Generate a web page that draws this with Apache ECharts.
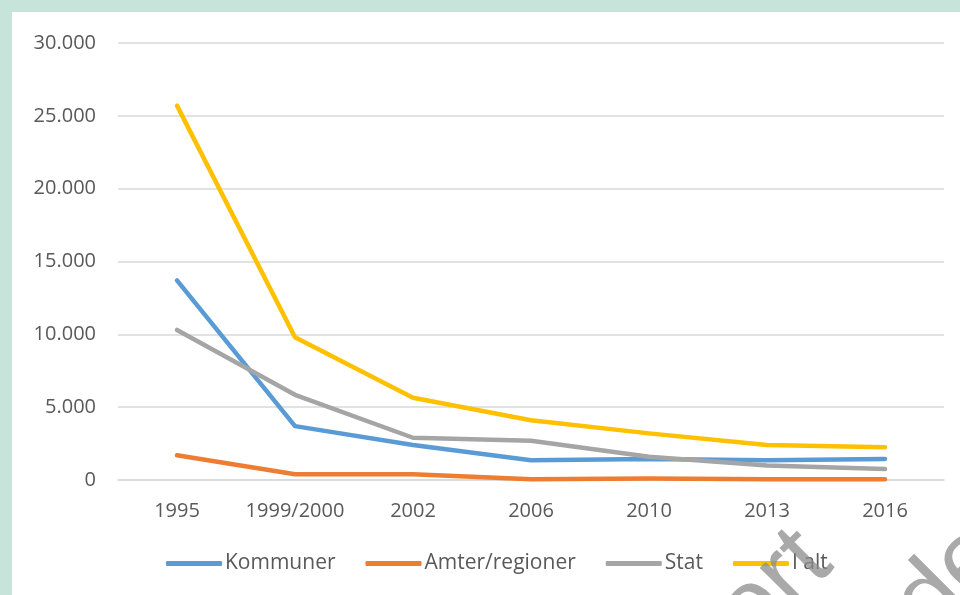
<!DOCTYPE html>
<html>
<head>
<meta charset="utf-8">
<script src="https://cdn.jsdelivr.net/npm/echarts@6/dist/echarts.min.js"></script>
<style>
  html, body { margin: 0; padding: 0; background: #c6e4d9; }
  #chart { position: absolute; left: 12px; top: 12px; width: 948px; height: 583px; background: #ffffff; }
</style>
</head>
<body>
<div id="chart"></div>
<script>
// kategorier (år)
var years = ['1995', '1999/2000', '2002', '2006', '2010', '2013', '2016']

// serier
var kommuner = [13700, 3700, 2400, 1350, 1450, 1350, 1450]
var amter = [1700, 400, 400, 50, 100, 50, 50]
var stat = [10300, 5850, 2900, 2700, 1600, 1000, 750]
var iAlt = [25700, 9800, 5650, 4100, 3200, 2400, 2250]

var names = ['Kommuner', 'Amter/regioner', 'Stat', 'I alt']
var colors = ['#5b9bd5', '#ed7d31', '#a5a5a5', '#ffc000']

var font = 'Open Sans'

function lineSeries(name, data, color) {
  return {
    name: name,
    type: 'line',
    data: data,
    showSymbol: false,
    symbol: 'none',
    lineStyle: { width: 4.5, color: color, cap: 'round', join: 'round' },
    itemStyle: { color: color }
  }
}

var myChart = echarts.init(document.getElementById('chart'))
myChart.setOption({
  animation: false,
  backgroundColor: '#ffffff',
  grid: { left: 106, right: 16, top: 31, bottom: 115 },
  legend: {
    bottom: 16,
    left: 149,
    icon: 'roundRect',
    itemWidth: 56,
    itemHeight: 5,
    itemGap: 30,
    textStyle: { color: '#595959', fontSize: 21, fontFamily: font, padding: [0, 0, 0, -2] },
    data: names
  },
  xAxis: {
    type: 'category',
    boundaryGap: true,
    data: years,
    axisLine: { show: true, lineStyle: { color: '#d9d9d9', width: 1.5 } },
    axisTick: { show: false },
    axisLabel: { color: '#595959', fontSize: 20, fontFamily: font, margin: 21, interval: 0 }
  },
  yAxis: {
    type: 'value',
    min: 0,
    max: 30000,
    interval: 5000,
    axisLine: { show: false },
    axisTick: { show: false },
    splitLine: { lineStyle: { color: '#d9d9d9', width: 1.5 } },
    axisLabel: {
      color: '#595959',
      fontSize: 20,
      fontFamily: font,
      margin: 22,
      formatter: function (v) {
        return v === 0 ? '0' : (v / 1000).toFixed(3)
      }
    }
  },
  series: [
    lineSeries(names[0], kommuner, colors[0]),
    lineSeries(names[1], amter, colors[1]),
    lineSeries(names[2], stat, colors[2]),
    lineSeries(names[3], iAlt, colors[3])
  ],
  graphic: [
    {
      type: 'text',
      left: 686,
      top: 500,
      rotation: Math.PI / 4,
      z: 100,
      style: { text: 'ort', fill: 'rgba(140,140,140,0.75)', font: '100px "Liberation Sans"' }
    },
    {
      type: 'text',
      left: 864,
      top: 494,
      rotation: Math.PI / 4,
      z: 100,
      style: { text: 'de', fill: 'rgba(140,140,140,0.75)', font: '100px "Liberation Sans"' }
    }
  ]
})
</script>
</body>
</html>
